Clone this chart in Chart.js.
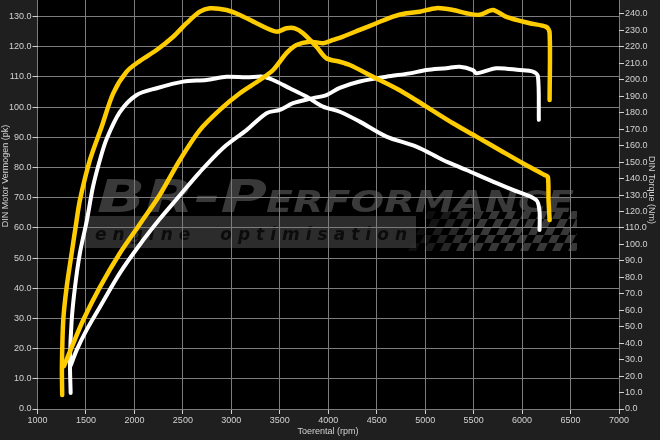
<!DOCTYPE html>
<html>
<head>
<meta charset="utf-8">
<script src="https://cdn.jsdelivr.net/npm/chart.js@4/dist/chart.umd.min.js"></script>
<style>
  html, body { margin: 0; padding: 0; background: #1f1f1f; }
  #wrap { width: 660px; height: 440px; }
</style>
</head>
<body>
<div id="wrap"><canvas id="dyno"></canvas></div>
<script>
// tuned run (yellow)
const tunedPowerRpm = [1273, 1353, 1472, 1644, 1851, 2057, 2263, 2469, 2675, 2881, 3088, 3294, 3431, 3569, 3672, 3809, 3946, 4049, 4153, 4325, 4497, 4668, 4806, 4943, 5115, 5287, 5425, 5562, 5699, 5837, 6077, 6249, 6284, 6284];
const tunedPower = [14.2, 20.5, 29.5, 40.4, 51.7, 61.3, 71, 82.5, 92.4, 99.1, 104.6, 109, 112.3, 117.9, 120.6, 121.7, 121.2, 122.3, 123.4, 125.6, 127.8, 130, 131.1, 131.6, 132.8, 132.2, 131.1, 130.6, 132.2, 129.9, 127.8, 126.6, 124.6, 102.4];
const tunedTorqueRpm = [1255, 1252, 1266, 1301, 1353, 1404, 1438, 1541, 1662, 1781, 1920, 2057, 2229, 2400, 2538, 2675, 2778, 2950, 3088, 3260, 3466, 3569, 3655, 3740, 3878, 3981, 4119, 4222, 4462, 4737, 5012, 5287, 5528, 5768, 6008, 6232, 6266, 6273, 6284];
const tunedTorque = [8.5, 25.5, 54.1, 74.1, 94.8, 114.8, 127, 151.3, 171.5, 191.8, 205, 211.5, 218.1, 226.2, 234.4, 241.4, 243.5, 242.4, 239.4, 234.4, 229.3, 231.3, 231.3, 228.3, 220.1, 213.1, 211, 209, 201.9, 193.7, 183.7, 173.6, 165.5, 157.4, 149.3, 142.2, 141, 127, 114.8];

// stock run (white)
const stockPowerRpm = [1345, 1404, 1507, 1644, 1851, 2057, 2263, 2435, 2675, 2915, 3157, 3363, 3500, 3637, 3843, 3981, 4119, 4325, 4600, 4840, 5012, 5219, 5356, 5493, 5528, 5734, 5974, 6111, 6163, 6173];
const stockPower = [14.6, 19.5, 26.2, 33.8, 45.1, 54.5, 63, 69.5, 78.5, 86.5, 92.4, 98, 99.1, 101.3, 103, 104, 106.4, 108.5, 110.1, 111.2, 112.3, 112.9, 113.4, 112.3, 111.2, 112.9, 112.3, 111.8, 110.3, 95.8];
const stockTorqueRpm = [1342, 1335, 1353, 1387, 1438, 1510, 1572, 1644, 1713, 1851, 2023, 2229, 2503, 2744, 2950, 3157, 3328, 3431, 3603, 3775, 3946, 4119, 4325, 4600, 4909, 5184, 5425, 5699, 5905, 6146, 6180, 6180];
const stockTorque = [9.7, 29.8, 54.1, 74.1, 94.8, 114.8, 134.9, 151.3, 164, 180.5, 190.8, 194.9, 198.9, 199.9, 201.9, 201.5, 201.9, 199.9, 194.9, 189.8, 183.7, 180.6, 174.6, 165.5, 159.4, 151.3, 145.2, 138.1, 133.1, 127, 119.9, 108.8];

// axis settings
const rpmMin = 1000, rpmMax = 7000, rpmStep = 500;
const powerMax = 135.5, torqueMax = 248.5, valueStep = 10;
const xTitle = "Toerental (rpm)";
const powerTitle = "DIN Motor Vermogen (pk)";
const torqueTitle = "DIN Torque (Nm)";

const YELLOW = "#ffcc00";
const WHITE = "#ffffff";
const TEXT = "#d2d2d2";
const GRID = "#7c7c7c";
const FONT = 'Arial, "Liberation Sans", sans-serif';

function pts(xs, ys) {
    return xs.map((x, i) => ({ x: x, y: ys[i] }));
}

function line(label, data, color, axis, width) {
    return {
        label: label,
        data: data,
        yAxisID: axis,
        borderColor: color,
        borderWidth: width,
        borderCapStyle: "round",
        borderJoinStyle: "round",
        pointRadius: 0,
        tension: 0.3,
        fill: false,
    };
}

// black plot area + the faded logo behind the grid, titles on top
const backdrop = {
    id: "backdrop",
    beforeDraw(chart) {
        const { ctx, chartArea: a } = chart;
        ctx.save();
        ctx.fillStyle = "#000";
        ctx.fillRect(a.left, a.top, a.right - a.left, a.bottom - a.top);

        // band behind "engine optimisation"
        ctx.fillStyle = "#2c2c2c";
        ctx.fillRect(84, 216, 332, 32);

        // chequered flag
        ctx.save();
        ctx.beginPath();
        ctx.rect(405, 211, 172, 40);
        ctx.clip();
        const sq = 8;
        for (let r = 0; r < 5; r++) {
            for (let c = 0; c < 22; c++) {
                if ((r + c) % 2) continue;
                const x0 = 408 + c * sq + (4 - r) * 4;
                const y0 = 211 + r * sq;
                ctx.globalAlpha = Math.min(1, 0.25 + c / 9);
                ctx.fillStyle = "#383838";
                ctx.beginPath();
                ctx.moveTo(x0 + 4, y0);
                ctx.lineTo(x0 + 4 + sq, y0);
                ctx.lineTo(x0 + sq, y0 + sq);
                ctx.lineTo(x0, y0 + sq);
                ctx.closePath();
                ctx.fill();
            }
        }
        ctx.restore();

        // "BR-Performance" in wide italic caps
        ctx.fillStyle = "#393939";
        ctx.textBaseline = "alphabetic";
        fitText(ctx, "BR-P", "italic bold 44px 'DejaVu Sans'", 97, 212, 170);
        fitText(ctx, "ERFORMANCE", "italic bold 30px 'DejaVu Sans'", 266, 212, 308);

        // "engine optimisation", spaced letters
        ctx.fillStyle = "#0c0c0c";
        ctx.font = "italic bold 17px 'DejaVu Sans'";
        const word = "engine  optimisation";
        const target = 312;
        let sum = 0;
        for (const ch of word) sum += ctx.measureText(ch).width;
        const gap = (target - sum) / (word.length - 1);
        let x = 95;
        for (const ch of word) {
            ctx.fillText(ch, x, 240);
            x += ctx.measureText(ch).width + gap;
        }
        ctx.restore();
    },
    afterDraw(chart) {
        const { ctx } = chart;
        ctx.save();
        ctx.fillStyle = TEXT;
        ctx.font = "9px " + FONT;
        ctx.textAlign = "center";
        ctx.textBaseline = "middle";
        ctx.fillText(xTitle, 328, 432);

        ctx.translate(6, 176);
        ctx.rotate(-Math.PI / 2);
        ctx.fillText(powerTitle, 0, 0);
        ctx.restore();

        ctx.save();
        ctx.fillStyle = TEXT;
        ctx.font = "9px " + FONT;
        ctx.textAlign = "center";
        ctx.textBaseline = "middle";
        ctx.translate(651, 190);
        ctx.rotate(Math.PI / 2);
        ctx.fillText(torqueTitle, 0, 0);
        ctx.restore();
    },
};

function fitText(ctx, text, font, x, y, width) {
    ctx.font = font;
    const w = ctx.measureText(text).width;
    ctx.save();
    ctx.translate(x, y);
    ctx.scale(width / w, 1);
    ctx.fillText(text, 0, 0);
    ctx.restore();
}

const tickFont = { family: FONT, size: 9 };

new Chart(document.getElementById("dyno"), {
    type: "line",
    data: {
        datasets: [
            line("Vermogen getuned", pts(tunedPowerRpm, tunedPower), YELLOW, "y", 4.5),
            line("Koppel getuned", pts(tunedTorqueRpm, tunedTorque), YELLOW, "y1", 4.5),
            line("Vermogen standaard", pts(stockPowerRpm, stockPower), WHITE, "y", 4),
            line("Koppel standaard", pts(stockTorqueRpm, stockTorque), WHITE, "y1", 4),
        ],
    },
    options: {
        responsive: true,
        maintainAspectRatio: false,
        animation: false,
        layout: { padding: 0 },
        plugins: {
            legend: { display: false },
            tooltip: { enabled: false },
        },
        scales: {
            x: {
                type: "linear",
                min: rpmMin,
                max: rpmMax,
                border: { display: false },
                grid: { color: GRID, tickColor: TEXT, tickLength: 5 },
                ticks: {
                    stepSize: rpmStep,
                    maxTicksLimit: 100,
                    autoSkip: false,
                    includeBounds: false,
                    maxRotation: 0,
                    padding: 1,
                    color: TEXT,
                    font: tickFont,
                    callback: v => String(v),
                },
                afterFit(s) { s.height = 31; s.paddingLeft = 0; s.paddingRight = 0; },
            },
            y: {
                position: "left",
                min: 0,
                max: powerMax,
                border: { display: false },
                grid: { color: GRID, tickColor: TEXT, tickLength: 5 },
                ticks: {
                    stepSize: valueStep,
                    maxTicksLimit: 100,
                    autoSkip: false,
                    includeBounds: false,
                    padding: 1,
                    color: TEXT,
                    font: tickFont,
                    callback: v => v.toFixed(1),
                },
                afterFit(s) { s.width = 37.5; s.paddingTop = 0; s.paddingBottom = 0; },
            },
            y1: {
                position: "right",
                min: 0,
                max: torqueMax,
                border: { display: false },
                grid: { drawOnChartArea: false, tickColor: TEXT, tickLength: 5 },
                ticks: {
                    stepSize: valueStep,
                    maxTicksLimit: 100,
                    autoSkip: false,
                    includeBounds: false,
                    padding: 1,
                    color: TEXT,
                    font: tickFont,
                    callback: v => v.toFixed(1),
                },
                afterFit(s) { s.width = 41; s.paddingTop = 0; s.paddingBottom = 0; },
            },
        },
    },
    plugins: [backdrop],
});
</script>
</body>
</html>
